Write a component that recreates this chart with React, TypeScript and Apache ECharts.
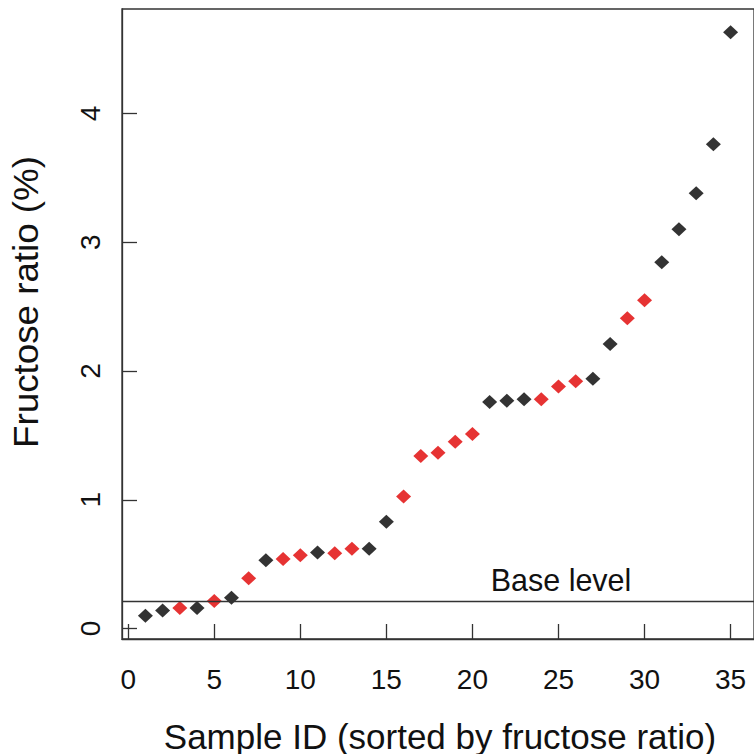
import React, { useEffect, useRef } from "react";
import * as echarts from "echarts";

const sampleIds = [
  1, 2, 3, 4, 5, 6, 7, 8, 9, 10, 11, 12, 13, 14, 15, 16, 17, 18, 19, 20, 21, 22,
  23, 24, 25, 26, 27, 28, 29, 30, 31, 32, 33, 34, 35,
];
const fructoseRatio = [
  0.1, 0.14, 0.16, 0.16, 0.215, 0.24, 0.39, 0.53, 0.54, 0.57, 0.59, 0.585, 0.62,
  0.62, 0.83, 1.025, 1.34, 1.365, 1.45, 1.51, 1.76, 1.77, 1.78, 1.78, 1.88,
  1.92, 1.94, 2.21, 2.41, 2.55, 2.845, 3.1, 3.38, 3.76, 4.63,
];
// "b" = black point, "r" = red point
const pointGroup = [
  "b", "b", "r", "b", "r", "b", "r", "b", "r", "r", "b", "r", "r", "b", "b", "r",
  "r", "r", "r", "r", "b", "b", "b", "r", "r", "r", "b", "b", "r", "r", "b", "b",
  "b", "b", "b",
];
const baseLevel = 0.21;
const xTicks = [0, 5, 10, 15, 20, 25, 30, 35];
const yTicks = [0, 1, 2, 3, 4];

const FONT = "'Liberation Sans', Arial, Helvetica, sans-serif";
const AXIS_COLOR = "#333333";

export default function App() {
  const ref = useRef<HTMLDivElement>(null);

  useEffect(() => {
    if (!ref.current) return;
    const chart = echarts.init(ref.current, undefined, { renderer: "svg" });

    const pts = (g: string) =>
      sampleIds
        .map((id, i) => [id, fructoseRatio[i], pointGroup[i]] as [number, number, string])
        .filter((d) => d[2] === g)
        .map((d) => [d[0], d[1]]);

    chart.setOption({
      animation: false,
      backgroundColor: "#ffffff",
      grid: {
        left: 122,
        right: -1,
        top: 9,
        bottom: 115,
        show: true,
        borderColor: AXIS_COLOR,
        borderWidth: 1.3,
        backgroundColor: "transparent",
      },
      xAxis: {
        type: "value",
        min: -0.36,
        max: 36.36,
        axisLine: { show: true, onZero: false, lineStyle: { color: AXIS_COLOR, width: 1.3 } },
        axisTick: {
          show: true,
          inside: true,
          length: 15,
          customValues: xTicks,
          lineStyle: { color: AXIS_COLOR, width: 1.3 },
        },
        axisLabel: {
          customValues: xTicks,
          fontFamily: FONT,
          fontSize: 28,
          color: "#111",
          margin: 26,
        },
        splitLine: { show: false },
      },
      yAxis: {
        type: "value",
        min: -0.081,
        max: 4.811,
        axisLine: { show: true, onZero: false, lineStyle: { color: AXIS_COLOR, width: 1.3 } },
        axisTick: {
          show: true,
          inside: true,
          length: 15,
          customValues: yTicks,
          lineStyle: { color: AXIS_COLOR, width: 1.3 },
        },
        axisLabel: {
          customValues: yTicks,
          fontFamily: FONT,
          fontSize: 28,
          color: "#111",
          rotate: 90,
          margin: 18,
        },
        splitLine: { show: false },
      },
      series: [
        {
          type: "scatter",
          name: "black",
          symbol: "diamond",
          symbolSize: [15, 14],
          itemStyle: { color: "#000000" },
          data: pts("b"),
          z: 3,
          markLine: {
            silent: true,
            symbol: "none",
            label: { show: false },
            lineStyle: { color: AXIS_COLOR, width: 1.3, type: "solid" },
            data: [{ yAxis: baseLevel }],
          },
        },
        {
          type: "scatter",
          name: "red",
          symbol: "diamond",
          symbolSize: [15, 14],
          itemStyle: { color: "#e00000" },
          data: pts("r"),
          z: 3,
        },
      ],
      graphic: [
        {
          type: "text",
          x: 561,
          y: 580,
          style: {
            text: "Base level",
            font: `30.5px ${FONT}`,
            fill: "#111",
            align: "center",
            verticalAlign: "middle",
          },
        },
        {
          type: "text",
          x: 440,
          y: 736,
          style: {
            text: "Sample ID (sorted by fructose ratio)",
            font: `35px ${FONT}`,
            fill: "#111",
            align: "center",
            verticalAlign: "middle",
          },
        },
        {
          type: "text",
          x: 26,
          y: 302,
          rotation: Math.PI / 2,
          scaleX: 1.05,
          style: {
            text: "Fructose ratio (%)",
            font: `35px ${FONT}`,
            fill: "#111",
            align: "center",
            verticalAlign: "middle",
          },
        },
      ],
    });

    return () => chart.dispose();
  }, []);

  return <div ref={ref} style={{ width: 754, height: 754, position: "absolute", left: 0, top: 0 }} />;
}
